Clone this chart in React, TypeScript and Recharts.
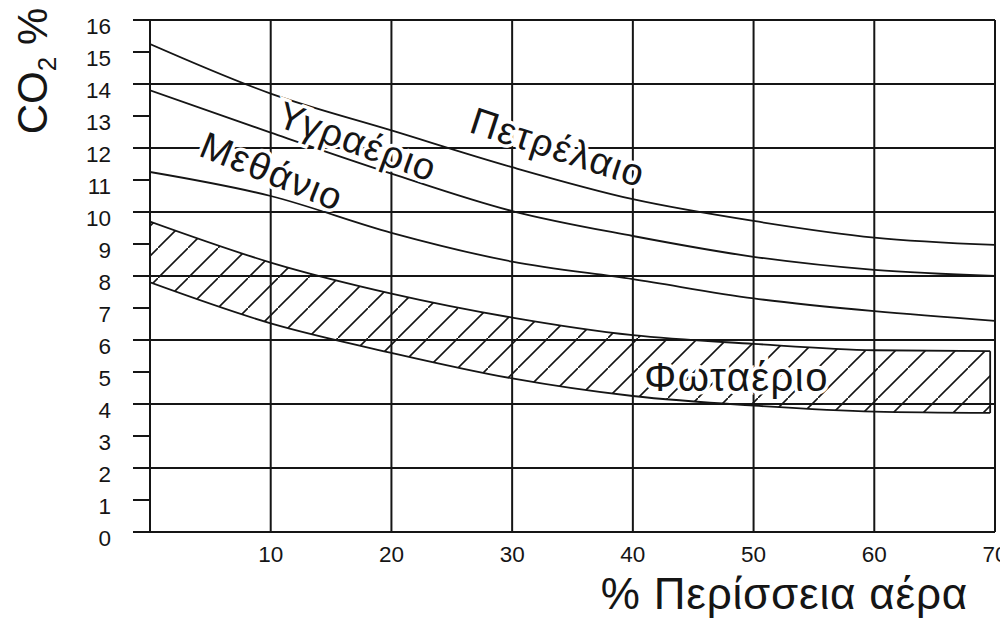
import {
  ComposedChart,
  Line,
  Area,
  XAxis,
  YAxis,
  CartesianGrid,
  ReferenceLine,
  ReferenceDot,
} from "recharts";

// % excess air (x) and CO2 %
const excessAir = [0, 10, 20, 30, 40, 50, 60, 70];
const petroleum = [15.25, 13.7, 12.55, 11.4, 10.4, 9.72, 9.2, 8.97];
const lpg = [13.8, 12.48, 11.2, 10.03, 9.25, 8.6, 8.19, 8.0];
const methane = [11.25, 10.5, 9.35, 8.45, 7.9, 7.3, 6.9, 6.6];

// town gas is a band, it stops just short of 70
const townGasAir = [0, 10, 20, 30, 40, 50, 60, 69.6];
const townGasHigh = [9.7, 8.42, 7.45, 6.7, 6.15, 5.88, 5.68, 5.65];
const townGasLow = [7.8, 6.52, 5.6, 4.8, 4.25, 3.95, 3.76, 3.72];

const yTicks = [0, 1, 2, 3, 4, 5, 6, 7, 8, 9, 10, 11, 12, 13, 14, 15, 16];
const xTicks = [10, 20, 30, 40, 50, 60, 70];
const gridRows = [2, 4, 6, 8, 10, 12, 14, 16];

const curveLabels = [
  { text: "Υγραέριο", x: 17.2, y: 12.2, angle: 20, size: 38 },
  { text: "Μεθάνιο", x: 10.1, y: 11.27, angle: 22, size: 38 },
  { text: "Πετρέλαιο", x: 33.8, y: 12.02, angle: 18, size: 38 },
  { text: "Φωταέριο", x: 48.6, y: 4.84, angle: 0, size: 40 },
];

const INK = "#151515";
const FONT = "'Liberation Sans', Arial, Helvetica, sans-serif";

const curveData = excessAir.map((x, i) => ({
  x,
  petroleum: petroleum[i],
  lpg: lpg[i],
  methane: methane[i],
}));

const bandData = townGasAir.map((x, i) => ({
  x,
  band: [townGasLow[i], townGasHigh[i]],
}));

const last = townGasAir.length - 1;

function YTick(props: any) {
  const { x, y, payload } = props;
  return (
    <text x={x} y={y + 14} textAnchor="end" fontSize={22.5} fill={INK} fontFamily={FONT}>
      {payload.value}
    </text>
  );
}

function XTick(props: any) {
  const { x, y, payload } = props;
  return (
    <text x={x} y={y + 22} textAnchor="middle" fontSize={22.5} fill={INK} fontFamily={FONT}>
      {payload.value}
    </text>
  );
}

function YTitle(props: any) {
  const { viewBox } = props;
  const cx = viewBox.x + 39;
  const cy = 63;
  return (
    <text
      x={cx}
      y={cy}
      transform={`rotate(-90, ${cx}, ${cy})`}
      textAnchor="middle"
      fontSize={42}
      fill={INK}
      fontFamily={FONT}
    >
      <tspan>CO</tspan>
      <tspan fontSize={26} dy={9}>2</tspan>
      <tspan dy={-9}> %</tspan>
    </text>
  );
}

function XTitle(props: any) {
  const { viewBox } = props;
  return (
    <text
      x={viewBox.x + viewBox.width - 27}
      y={viewBox.y + 77}
      textAnchor="end"
      fontSize={44}
      letterSpacing={0.8}
      fill={INK}
      fontFamily={FONT}
    >
      % Περίσσεια αέρα
    </text>
  );
}

function CurveLabel(props: any) {
  const { cx, cy, text, angle, size } = props;
  return (
    <text
      x={cx}
      y={cy}
      transform={`rotate(${angle}, ${cx}, ${cy})`}
      textAnchor="middle"
      dominantBaseline="central"
      fontSize={size}
      letterSpacing={1.5}
      fill={INK}
      stroke="#fff"
      strokeWidth={7}
      paintOrder="stroke"
      fontFamily={FONT}
    >
      {text}
    </text>
  );
}

export default function App() {
  return (
    <ComposedChart
      width={1000}
      height={614}
      data={curveData}
      margin={{ top: 12, right: 13, bottom: 0, left: 0 }}
      style={{ background: "#fff" }}
    >
      <defs>
        <pattern id="hatch" patternUnits="userSpaceOnUse" width={30} height={30}>
          <line x1={-3} y1={33} x2={33} y2={-3} stroke={INK} strokeWidth={1.6} />
        </pattern>
      </defs>
      <CartesianGrid
        horizontalValues={gridRows}
        verticalValues={xTicks}
        stroke={INK}
        strokeWidth={2}
      />
      <XAxis
        dataKey="x"
        type="number"
        domain={[0, 70]}
        ticks={xTicks}
        tickLine={false}
        axisLine={{ stroke: INK, strokeWidth: 2 }}
        tick={<XTick />}
        height={90}
        label={{ content: <XTitle /> }}
        allowDataOverflow
      />
      <YAxis
        type="number"
        domain={[0, 16]}
        ticks={yTicks}
        width={142}
        tickSize={17}
        tickMargin={22}
        tickLine={{ stroke: INK, strokeWidth: 2 }}
        axisLine={{ stroke: INK, strokeWidth: 2 }}
        tick={<YTick />}
        interval={0}
        label={{ content: <YTitle /> }}
        allowDataOverflow
      />
      <Area
        data={bandData}
        dataKey="band"
        type="monotone"
        stroke={INK}
        strokeWidth={1.8}
        fill="url(#hatch)"
        fillOpacity={1}
        isAnimationActive={false}
      />
      <ReferenceLine
        segment={[
          { x: townGasAir[last], y: townGasLow[last] },
          { x: townGasAir[last], y: townGasHigh[last] },
        ]}
        stroke={INK}
        strokeWidth={1.8}
      />
      {curveLabels.map((l) => (
        <ReferenceDot
          key={l.text}
          x={l.x}
          y={l.y}
          r={0}
          shape={(p: any) => <CurveLabel {...p} text={l.text} angle={l.angle} size={l.size} />}
        />
      ))}
      <Line dataKey="petroleum" type="monotone" stroke={INK} strokeWidth={1.8} dot={false} isAnimationActive={false} />
      <Line dataKey="lpg" type="monotone" stroke={INK} strokeWidth={1.8} dot={false} isAnimationActive={false} />
      <Line dataKey="methane" type="monotone" stroke={INK} strokeWidth={1.8} dot={false} isAnimationActive={false} />
    </ComposedChart>
  );
}
